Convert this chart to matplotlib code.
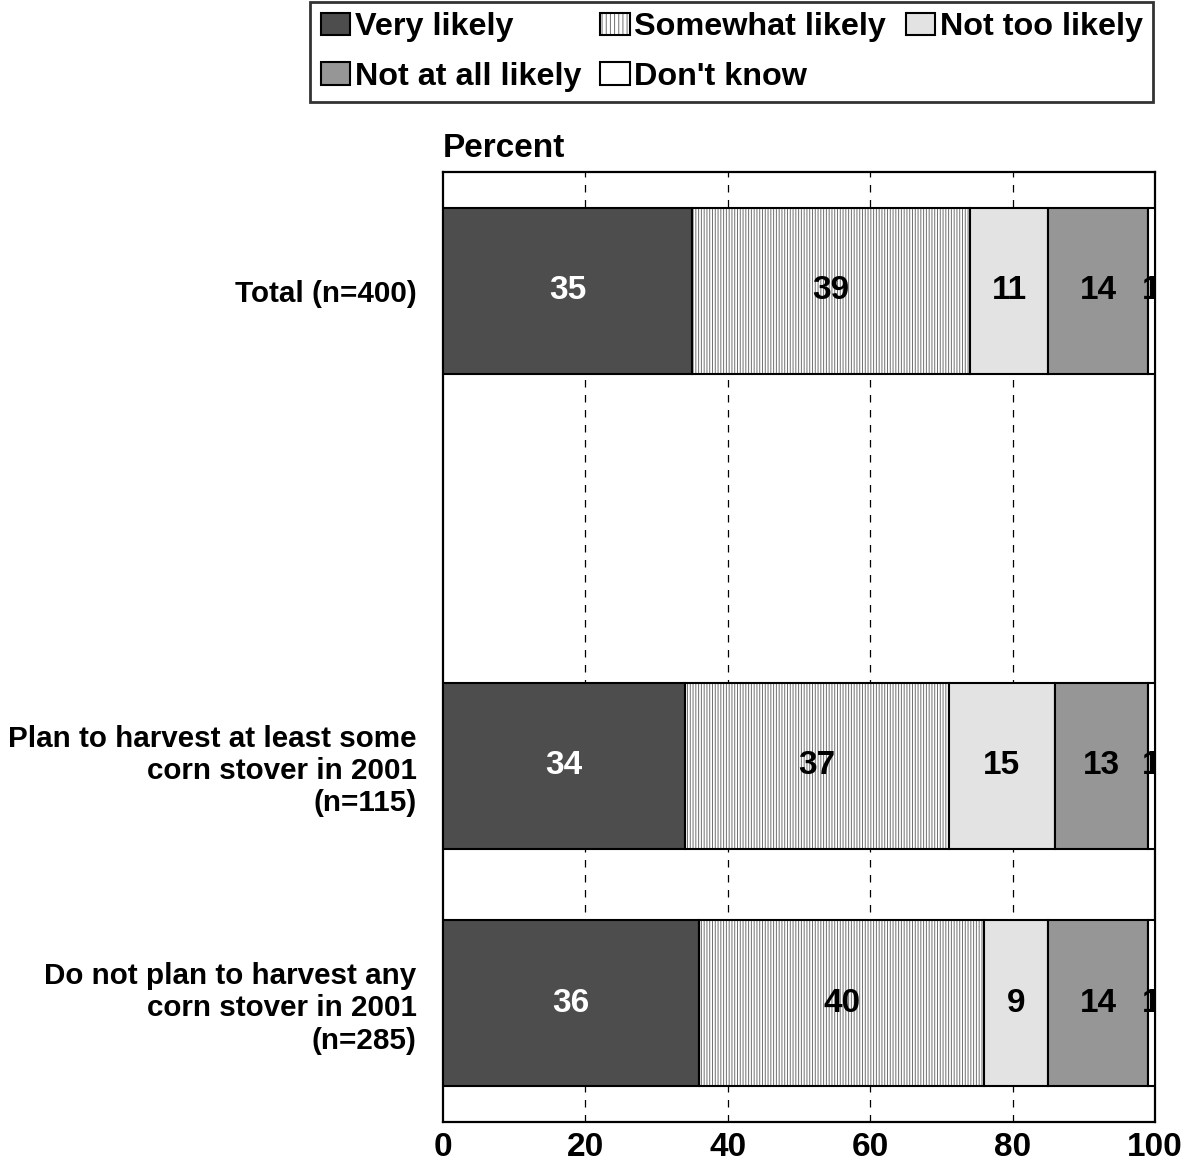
import matplotlib
matplotlib.use("Agg")
import matplotlib.pyplot as plt
from matplotlib.patches import Patch
from matplotlib.legend_handler import HandlerTuple
import numpy as np

plt.rcParams['font.family'] = ['Liberation Sans', 'DejaVu Sans']
plt.rcParams['font.weight'] = 'bold'
plt.rcParams['hatch.linewidth'] = 0.7

categories = ["Total (n=400)",
              "Plan to harvest at least some\ncorn stover in 2001\n(n=115)",
              "Do not plan to harvest any\ncorn stover in 2001\n(n=285)"]
positions = [0, 2, 3]
series = ["Very likely", "Somewhat likely", "Not too likely", "Not at all likely", "Don't know"]
very_likely = [35, 34, 36]
somewhat_likely = [39, 37, 40]
not_too_likely = [11, 15, 9]
not_at_all_likely = [14, 13, 14]
dont_know = [1, 1, 1]
values = [very_likely, somewhat_likely, not_too_likely, not_at_all_likely, dont_know]
xticks = [0, 20, 40, 60, 80, 100]

colors = ['#4d4d4d', '#ffffff', '#e3e3e3', '#969696', '#ffffff']
hatches = [None, '||||||', None, None, None]
label_colors = ['white', 'black', 'black', 'black', 'black']

fig = plt.figure(figsize=(11.88, 11.72), dpi=100)
ax = fig.add_axes([443/1188, 1 - 1122/1172, (1155-443)/1188, (1122-172)/1172])

ax.set_xlim(0, 100)
ax.set_ylim(3.5, -0.5)
for x in xticks[1:-1]:
    ax.axvline(x, color='black', lw=0.9, ls=(0, (6, 6)), zorder=0)

left = np.zeros(len(positions))
handles = []
for i, (name, vals) in enumerate(zip(series, values)):
    vals = np.array(vals, dtype=float)
    if hatches[i]:
        ax.barh(positions, vals, left=left, height=0.7, color='white',
                edgecolor='#707070', hatch=hatches[i], linewidth=0, zorder=2)
        ax.barh(positions, vals, left=left, height=0.7, fill=False,
                edgecolor='black', linewidth=1.5, zorder=3)
        h = (Patch(facecolor='white', edgecolor='#707070', hatch='||||', linewidth=0),
             Patch(fill=False, edgecolor='black', linewidth=1.5))
    else:
        ax.barh(positions, vals, left=left, height=0.7, color=colors[i],
                edgecolor='black', linewidth=1.5, zorder=3)
        h = Patch(facecolor=colors[i], edgecolor='black', linewidth=1.5)
    handles.append(h)
    for p, l, v in zip(positions, left, vals):
        ax.text(l + v / 2, p, f"{v:g}", ha='center', va='center', fontsize=24,
                fontweight='bold', color=label_colors[i], zorder=5, clip_on=True)
    left += vals

ax.set_yticks(positions)
ax.set_yticklabels(categories, fontsize=21.3, fontweight='bold', ha='right', linespacing=1.2)
ax.set_xticks(xticks)
ax.set_xticklabels([str(t) for t in xticks], fontsize=24, fontweight='bold')
ax.tick_params(axis='both', length=0)
ax.tick_params(axis='x', pad=7)
ax.tick_params(axis='y', pad=19)
for s in ax.spines.values():
    s.set_linewidth(1.6)
    s.set_color('black')

ax.annotate('Percent', xy=(0, 1), xycoords='axes fraction', xytext=(0, 6),
            textcoords='offset points', ha='left', va='bottom', fontsize=24, fontweight='bold')

# legend is filled column by column; order gives rows as in the original
order = [0, 3, 1, 4, 2]
leg = fig.legend([handles[k] for k in order], [series[k] for k in order], ncol=3,
                 loc='upper right', bbox_to_anchor=(1155/1188, 1.0), frameon=True,
                 fancybox=False, handlelength=0.9, handleheight=0.7, handletextpad=0.15,
                 columnspacing=0.6, labelspacing=0.6, borderpad=0.33, borderaxespad=0.05,
                 handler_map={tuple: HandlerTuple(ndivide=1, pad=0)},
                 prop={'weight': 'bold', 'size': 23.3})
leg.get_frame().set_edgecolor('black')
leg.get_frame().set_linewidth(2)

fig.savefig('out.png', dpi=100)
